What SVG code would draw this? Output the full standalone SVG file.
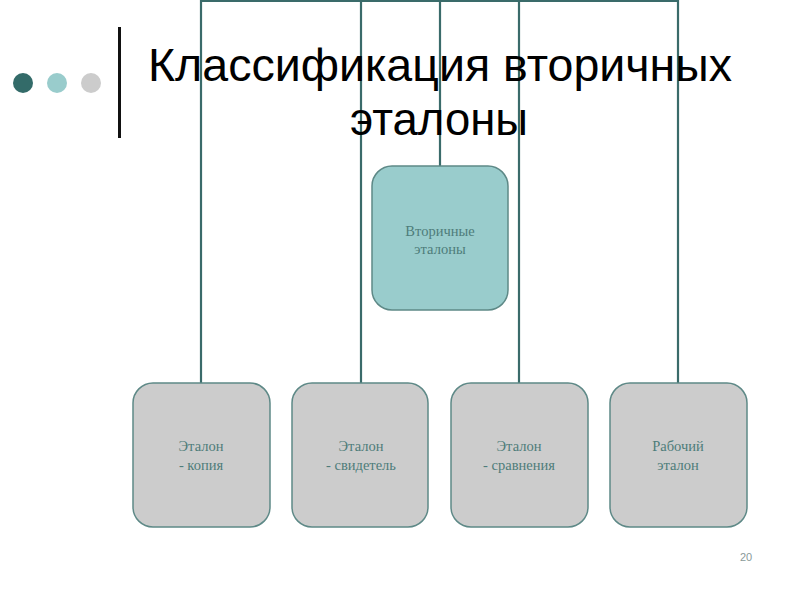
<svg xmlns="http://www.w3.org/2000/svg" width="800" height="600" viewBox="0 0 800 600">
<style>
.conn{stroke:#3a6b6a;stroke-width:2.2;fill:none}
.box{stroke:#5e8987;stroke-width:1.5}
.lbl{font-family:"Liberation Serif","Times New Roman",serif;font-size:14.5px;fill:#4e7c7a;text-anchor:middle}
.title{font-family:"Liberation Sans",Arial,sans-serif;font-size:47px;fill:#000;text-anchor:middle}
</style>
<rect width="800" height="600" fill="#fff"/>
<g id="decor">
<circle cx="23" cy="83" r="10" fill="#336b69"/>
<circle cx="57" cy="83" r="10" fill="#99cccc"/>
<circle cx="91" cy="83" r="10" fill="#cccccc"/>
<rect x="118" y="27" width="3" height="111" fill="#111"/>
</g>
<g id="connectors">
<polyline class="conn" points="201,383 201,1 678,1 678,383"/>
<line class="conn" x1="361" y1="0" x2="361" y2="383"/>
<line class="conn" x1="519" y1="0" x2="519" y2="383"/>
<line class="conn" x1="440" y1="0" x2="440" y2="166"/>
</g>
<g id="title">
<text class="title" x="440" y="81" textLength="584" lengthAdjust="spacingAndGlyphs">Классификация вторичных</text>
<text class="title" x="439" y="135" textLength="178" lengthAdjust="spacingAndGlyphs">эталоны</text>
</g>
<g id="node-center">
<rect class="box" x="372" y="166" width="136" height="144" rx="20" fill="#99cccc"/>
<text class="lbl" x="440" y="236">Вторичные</text>
<text class="lbl" x="440" y="254">эталоны</text>
</g>
<g id="node-copy">
<rect class="box" x="133" y="383" width="137" height="144" rx="20" fill="#cccccc"/>
<text class="lbl" x="201" y="451">Эталон</text>
<text class="lbl" x="201" y="470">- копия</text>
</g>
<g id="node-witness">
<rect class="box" x="292" y="383" width="136" height="144" rx="20" fill="#cccccc"/>
<text class="lbl" x="361" y="451">Эталон</text>
<text class="lbl" x="361" y="470">- свидетель</text>
</g>
<g id="node-compare">
<rect class="box" x="451" y="383" width="137" height="144" rx="20" fill="#cccccc"/>
<text class="lbl" x="519" y="451">Эталон</text>
<text class="lbl" x="519" y="470">- сравнения</text>
</g>
<g id="node-working">
<rect class="box" x="610" y="383" width="137" height="144" rx="20" fill="#cccccc"/>
<text class="lbl" x="678" y="451">Рабочий</text>
<text class="lbl" x="678" y="470">эталон</text>
</g>
<text x="746" y="561" font-family="Liberation Sans,Arial,sans-serif" font-size="11" fill="#8a9999" text-anchor="middle">20</text>
</svg>
